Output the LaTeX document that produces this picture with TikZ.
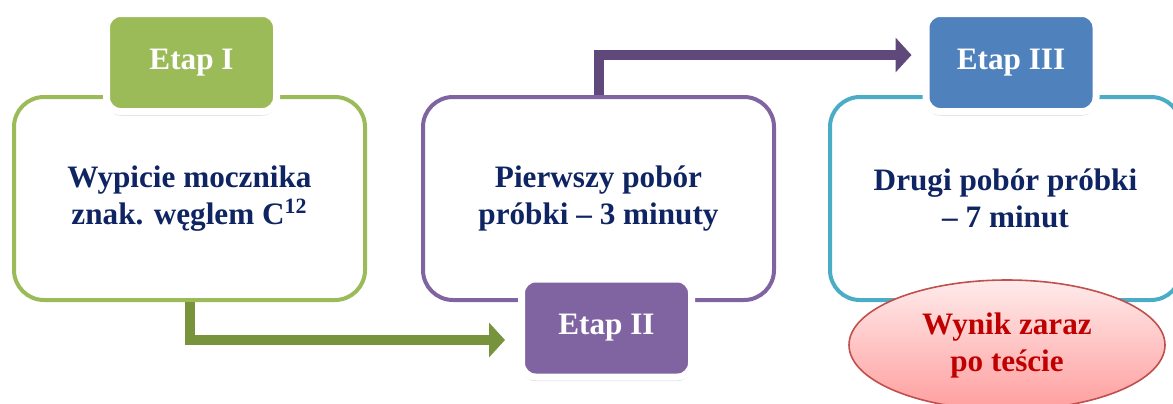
\documentclass[tikz,border=0pt]{standalone}
\usepackage{fontspec}
\setmainfont{Liberation Serif}
\usetikzlibrary{arrows.meta,shapes.geometric,shadows,positioning}

\definecolor{zielony}{HTML}{9BBB59}
\definecolor{zielonyc}{HTML}{77933C}
\definecolor{fiolet}{HTML}{8064A2}
\definecolor{fioletc}{HTML}{5F497A}
\definecolor{turkus}{HTML}{4BACC6}
\definecolor{niebieski}{HTML}{4F81BD}
\definecolor{granat}{HTML}{0F2463}
\definecolor{czerwony}{HTML}{C00000}
\definecolor{obwodka}{HTML}{C0504D}

\newcommand{\opis}{\fontsize{15.6}{18.5}\selectfont\bfseries}

\tikzset{
    duzy/.style={draw, line width=2pt, rounded corners=15pt, fill=white,
        minimum width=175.5pt, minimum height=101.5pt, align=center,
        text=granat, font=\opis},
    etap/.style={draw=white, line width=3.5pt, rounded corners=7pt,
        minimum width=85pt, minimum height=49pt, text=white, font=\opis,
        drop shadow={shadow xshift=0pt, shadow yshift=-2pt, opacity=0.35}},
    strzalka/.style={line width=5pt, -{Triangle[width=17pt,length=8pt]}},
}

\begin{document}
\begin{tikzpicture}[x=0.5pt, y=-0.5pt]
    \useasboundingbox (0,0) rectangle (1173,403);

    \def\yb{198.5};
    \def\yg{62.5};

% big boxes

    \node[duzy, draw=zielony] (opisI) at (189.5, \yb) {Wypicie mocznika\\znak. węglem C\textsuperscript{12}};
    \node[duzy, draw=fiolet] (opisII) at (598.5, \yb) {Pierwszy pobór\\próbki -- 3 minuty};
    \node[duzy, draw=turkus] (opisIII) at (1005.5, \yb) {Drugi pobór próbki\\-- 7 minut};

% stage labels

    \node[etap, fill=zielony] (etapI) at (191.5, \yg) {Etap I};
    \node[etap, fill=fiolet] (etapII) at (606.5, 328) {Etap II};
    \node[etap, fill=niebieski] (etapIII) at (1011, \yg) {Etap III};

% arrows

    \draw[strzalka, draw=zielonyc] (opisI.south) |- ([xshift=-6.5pt, yshift=-6pt]etapII.west);
    \draw[strzalka, draw=fioletc] (opisII.north) |- ([xshift=-5.5pt, yshift=3.75pt]etapIII.west);

% result

    \node[ellipse, draw=obwodka, line width=0.8pt, top color=red!8, bottom color=red!38,
        minimum width=158pt, minimum height=65pt, align=center, text=czerwony, font=\opis]
        (wynik) at (1007, 345) {Wynik zaraz\\po teście};

\end{tikzpicture}
\end{document}
